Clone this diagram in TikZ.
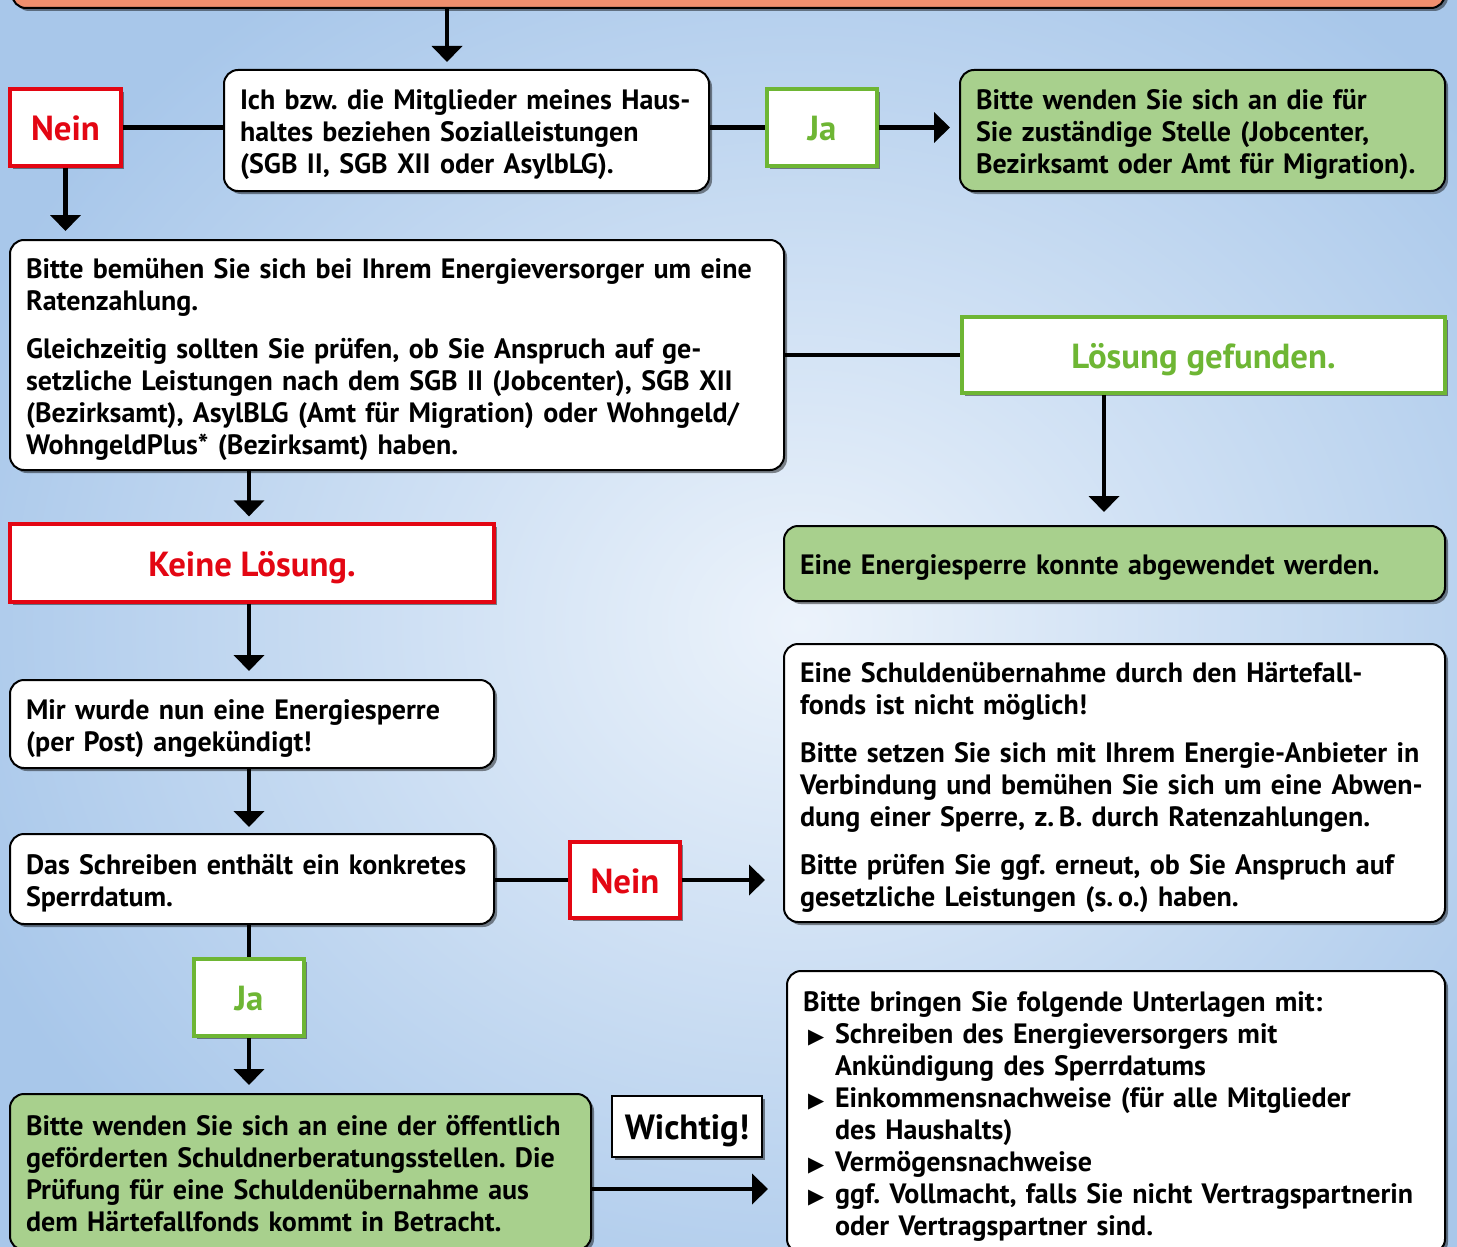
\documentclass[tikz,border=0pt]{standalone}
\usepackage{fontspec}
\setmainfont{PT Sans}
\newfontfamily\symbolschrift{DejaVu Sans}
\usetikzlibrary{arrows.meta, shadows, positioning}
\frenchspacing

\definecolor{signalrot}{RGB}{227,6,19}
\definecolor{blattgruen}{RGB}{110,182,52}
\definecolor{hellgruen}{RGB}{168,208,141}
\definecolor{lachs}{RGB}{240,143,110}
\definecolor{himmelinnen}{RGB}{236,243,251}
\definecolor{himmelaussen}{RGB}{168,199,234}

\newcommand{\zeilen}[1]{\noindent\raisebox{-2.3pt}[\height][\depth]{\begin{tabular}{@{}l@{}}#1\end{tabular}}}
\newcommand{\punkt}{\makebox[16pt][l]{\hspace{2.5pt}{\symbolschrift\fontsize{10.5}{10}\selectfont ▶}}}
\newcommand{\einzug}{\hspace*{16pt}}

\tikzset{
  schatten/.style={drop shadow={shadow xshift=1.5pt, shadow yshift=-1.5pt, opacity=0.45, fill=black}},
  kasten/.style={draw=black, line width=1pt, rounded corners=7pt, fill=white, inner xsep=8pt, align=left,
    font=\bfseries\fontsize{14}{16}\selectfont, schatten},
  gruenkasten/.style={kasten, fill=hellgruen},
  marke/.style={line width=1.6pt, fill=white, font=\bfseries\fontsize{17.4}{19}\selectfont,
    text height=13.4pt, text depth=0pt, schatten},
  neinmarke/.style={marke, draw=signalrot, text=signalrot},
  jamarke/.style={marke, draw=blattgruen, text=blattgruen},
  hinweis/.style={draw=black, line width=1.2pt, fill=white, font=\bfseries\fontsize{17.5}{20}\selectfont,
    text height=13.4pt, text depth=0pt, schatten},
  linie/.style={line width=2.4pt},
  pfeil/.style={linie, -{Triangle[length=8pt, width=15pt]}, shorten >=4pt},
}

\begin{document}
\begin{tikzpicture}[x=0.5pt,y=-0.5pt]
    \useasboundingbox (0,0) rectangle (1457,1247);
    \clip (0,0) rectangle (1457,1247);
    % Hintergrund
    \shade[inner color=himmelinnen, outer color=himmelaussen] (-100,-150) rectangle (1700,1400);

    % Kaesten
    \node[kasten, fill=lachs, minimum width=716.5pt, minimum height=28pt] (oben) at (728.5,-20) {};
    \node[neinmarke, minimum width=55.5pt, minimum height=38.5pt] (nein1) at (65.5,127.5) {Nein};
    \node[kasten, minimum width=242.5pt, minimum height=60.5pt, text width=226.5pt] (frage) at (466.5,130.5)
        {\zeilen{Ich bzw. die Mitglieder meines Haus-\\haltes beziehen Sozialleistungen\\(SGB II, SGB XII oder AsylbLG).}};
    \node[jamarke, minimum width=55pt, minimum height=38.5pt] (ja1) at (822,127.5) {Ja};
    \node[gruenkasten, minimum width=242.5pt, minimum height=60.5pt, text width=226.5pt] (zustaendig) at (1202.5,130.5)
        {\zeilen{Bitte wenden Sie sich an die für\\Sie zuständige Stelle (Jobcenter,\\Bezirksamt oder Amt für Migration).}};
    \node[kasten, minimum width=387pt, minimum height=115pt, text width=371pt] (raten) at (397,355)
        {\zeilen{Bitte bemühen Sie sich bei Ihrem Energieversorger um eine\\Ratenzahlung.\\[8pt]
        Gleichzeitig sollten Sie prüfen, ob Sie Anspruch auf ge-\\setzliche Leistungen nach dem SGB II (Jobcenter), SGB XII\\
        (Bezirksamt), AsylBLG (Amt für Migration) oder Wohngeld/\\WohngeldPlus* (Bezirksamt) haben.}};
    \node[jamarke, minimum width=241.5pt, minimum height=38pt] (geloest) at (1203.5,355) {Lösung gefunden.};
    \node[gruenkasten, minimum width=330.5pt, minimum height=37.5pt, text width=314.5pt] (abgewendet) at (1114.5,563.5)
        {\zeilen{Eine Energiesperre konnte abgewendet werden.}};
    \node[neinmarke, minimum width=242pt, minimum height=39pt] (keine) at (252,563) {Keine Lösung.};
    \node[kasten, minimum width=242pt, minimum height=44pt, text width=226pt] (angekuendigt) at (252,724)
        {\zeilen{Mir wurde nun eine Energiesperre\\(per Post) angekündigt!}};
    \node[kasten, minimum width=242pt, minimum height=45pt, text width=226pt] (sperrdatum) at (252,879)
        {\zeilen{Das Schreiben enthält ein konkretes\\Sperrdatum.}};
    \node[neinmarke, minimum width=55pt, minimum height=38pt] (nein2) at (625,880) {Nein};
    \node[kasten, minimum width=330.5pt, minimum height=139pt, text width=314.5pt] (haertefall) at (1114.5,783)
        {\zeilen{Eine Schuldenübernahme durch den Härtefall-\\fonds ist nicht möglich!\\[8pt]
        Bitte setzen Sie sich mit Ihrem Energie-Anbieter in\\Verbindung und bemühen Sie sich um eine Abwen-\\
        dung einer Sperre, z.\,B. durch Ratenzahlungen.\\[8pt]
        Bitte prüfen Sie ggf. erneut, ob Sie Anspruch auf\\gesetzliche Leistungen (s.\,o.) haben.}};
    \node[jamarke, minimum width=55pt, minimum height=38.5pt] (ja2) at (249,997.5) {Ja};
    \node[gruenkasten, minimum width=290.5pt, minimum height=78pt, text width=274.5pt] (beratung) at (300.5,1172)
        {\zeilen{Bitte wenden Sie sich an eine der öffentlich\\geförderten Schuldnerberatungsstellen. Die\\
        Prüfung für eine Schuldenübernahme aus\\dem Härtefallfonds kommt in Betracht.}};
    \node[hinweis, minimum width=75pt, minimum height=30.5pt] (wichtig) at (687,1126.5) {Wichtig!};
    \node[kasten, minimum width=329pt, minimum height=141pt, text width=313pt] (unterlagen) at (1116,1112)
        {\zeilen{Bitte bringen Sie folgende Unterlagen mit:\\
        \punkt Schreiben des Energieversorgers mit\\
        \einzug Ankündigung des Sperrdatums\\
        \punkt Einkommensnachweise (für alle Mitglieder\\
        \einzug des Haushalts)\\
        \punkt Vermögensnachweise\\
        \punkt ggf. Vollmacht, falls Sie nicht Vertragspartnerin\\
        \einzug oder Vertragspartner sind.}};

    % Verbindungen
    \draw[pfeil, shorten >=3.5pt] ([xshift=-9.75pt]frage.north |- oben.south) -- ([xshift=-9.75pt]frage.north);
    \draw[linie] (nein1.east) -- (nein1.east -| frage.west);
    \draw[linie] (frage.east |- ja1) -- (ja1.west);
    \draw[pfeil, shorten >=4.5pt] (ja1.east) -- (ja1.east -| zustaendig.west);
    \draw[pfeil] (nein1.south) -- (nein1.south |- raten.north);
    \draw[linie] (raten.east |- geloest) -- (geloest.west);
    \draw[pfeil, shorten >=6.5pt] ([xshift=-49.75pt]geloest.south) -- ([xshift=-49.75pt]geloest.south |- abgewendet.north);
    \draw[pfeil, shorten >=3pt] (raten.south -| ja2) -- (keine.north -| ja2);
    \draw[pfeil] (keine.south -| ja2) -- (angekuendigt.north -| ja2);
    \draw[pfeil, shorten >=3pt] (angekuendigt.south -| ja2) -- (sperrdatum.north -| ja2);
    \draw[linie] (sperrdatum.east |- nein2) -- (nein2.west);
    \draw[pfeil, shorten >=9pt] (nein2.east) -- (nein2.east -| haertefall.west);
    \draw[linie] (sperrdatum.south -| ja2) -- (ja2.north);
    \draw[pfeil] (ja2.south) -- (ja2.south |- beratung.north);
    \draw[pfeil, shorten >=9pt] ([yshift=-8.5pt]beratung.east) -- ([yshift=-8.5pt]beratung.east -| unterlagen.west);
\end{tikzpicture}
\end{document}
